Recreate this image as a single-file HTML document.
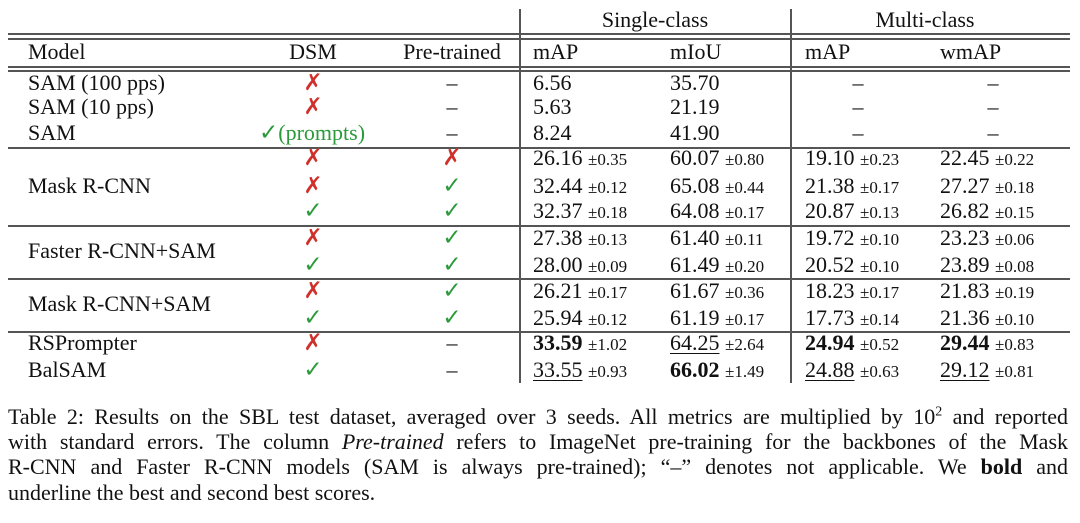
<!DOCTYPE html>
<html><head><meta charset="utf-8">
<style>
body{margin:0;background:#fff;width:1080px;height:523px;overflow:hidden;position:relative;font-family:"Liberation Serif",serif;color:#111}
.t{position:absolute;height:26px;line-height:26px;font-size:22px;white-space:nowrap}
.c{transform:translateX(-50%)}
.s{font-size:17px}
.r{color:#d0302a;font-family:"DejaVu Sans",sans-serif;font-size:23px}
.g{color:#2a9a3a;font-family:"DejaVu Sans",sans-serif;font-size:23px}
.hl{position:absolute;height:1.5px;background:#555;left:8px;width:1062px}
.vl{position:absolute;width:1.5px;background:#555;top:9px;height:374px}
u{text-decoration-thickness:1px;text-underline-offset:3px}
.cap{position:absolute;left:8px;width:1060px;height:25px;font-size:22px;line-height:25px;text-align:justify;text-align-last:justify;white-space:nowrap}
sup{line-height:0;font-size:14px}
</style></head><body>
<div class="hl" style="top:33px"></div>
<div class="hl" style="top:38px"></div>
<div class="hl" style="top:66px"></div>
<div class="hl" style="top:70px"></div>
<div class="hl" style="top:147px"></div>
<div class="hl" style="top:225px"></div>
<div class="hl" style="top:278px"></div>
<div class="hl" style="top:331px"></div>
<div class="vl" style="left:519px"></div>
<div class="vl" style="left:790px"></div>

<div class="t c" style="left:655px;top:7px">Single-class</div>
<div class="t c" style="left:925px;top:7px">Multi-class</div>

<div class="t" style="left:28px;top:39px">Model</div>
<div class="t c" style="left:313px;top:39px">DSM</div>
<div class="t c" style="left:452px;top:39px">Pre-trained</div>
<div class="t" style="left:533px;top:39px">mAP</div>
<div class="t" style="left:670px;top:39px">mIoU</div>
<div class="t" style="left:805px;top:39px">mAP</div>
<div class="t" style="left:940px;top:39px">wmAP</div>

<div class="t" style="left:28px;top:70px">SAM (100 pps)</div>
<div class="t" style="left:28px;top:94px">SAM (10 pps)</div>
<div class="t" style="left:28px;top:120px">SAM</div>
<div class="t c r" style="left:313px;top:70px">✗</div>
<div class="t c r" style="left:313px;top:94px">✗</div>
<div class="t" style="left:259px;top:120px"><span class="g">✓</span><span style="color:#2a9a3a">(prompts)</span></div>
<div class="t c" style="left:452px;top:70px">–</div>
<div class="t c" style="left:452px;top:94px">–</div>
<div class="t c" style="left:452px;top:120px">–</div>
<div class="t" style="left:533px;top:70px">6.56</div>
<div class="t" style="left:533px;top:94px">5.63</div>
<div class="t" style="left:533px;top:120px">8.24</div>
<div class="t" style="left:670px;top:70px">35.70</div>
<div class="t" style="left:670px;top:94px">21.19</div>
<div class="t" style="left:670px;top:120px">41.90</div>
<div class="t c" style="left:858px;top:70px">–</div>
<div class="t c" style="left:858px;top:94px">–</div>
<div class="t c" style="left:858px;top:120px">–</div>
<div class="t c" style="left:993px;top:70px">–</div>
<div class="t c" style="left:993px;top:94px">–</div>
<div class="t c" style="left:993px;top:120px">–</div>

<div class="t" style="left:28px;top:173px">Mask R-CNN</div>
<div class="t c r" style="left:313px;top:145px">✗</div>
<div class="t c r" style="left:313px;top:173px">✗</div>
<div class="t c g" style="left:313px;top:198px">✓</div>
<div class="t c r" style="left:452px;top:145px">✗</div>
<div class="t c g" style="left:452px;top:173px">✓</div>
<div class="t c g" style="left:452px;top:198px">✓</div>
<div class="t" style="left:533px;top:145px">26.16 <span class="s">±0.35</span></div>
<div class="t" style="left:533px;top:173px">32.44 <span class="s">±0.12</span></div>
<div class="t" style="left:533px;top:198px">32.37 <span class="s">±0.18</span></div>
<div class="t" style="left:670px;top:145px">60.07 <span class="s">±0.80</span></div>
<div class="t" style="left:670px;top:173px">65.08 <span class="s">±0.44</span></div>
<div class="t" style="left:670px;top:198px">64.08 <span class="s">±0.17</span></div>
<div class="t" style="left:805px;top:145px">19.10 <span class="s">±0.23</span></div>
<div class="t" style="left:805px;top:173px">21.38 <span class="s">±0.17</span></div>
<div class="t" style="left:805px;top:198px">20.87 <span class="s">±0.13</span></div>
<div class="t" style="left:940px;top:145px">22.45 <span class="s">±0.22</span></div>
<div class="t" style="left:940px;top:173px">27.27 <span class="s">±0.18</span></div>
<div class="t" style="left:940px;top:198px">26.82 <span class="s">±0.15</span></div>

<div class="t" style="left:28px;top:238px">Faster R-CNN+SAM</div>
<div class="t c r" style="left:313px;top:225px">✗</div>
<div class="t c g" style="left:313px;top:252px">✓</div>
<div class="t c g" style="left:452px;top:225px">✓</div>
<div class="t c g" style="left:452px;top:252px">✓</div>
<div class="t" style="left:533px;top:225px">27.38 <span class="s">±0.13</span></div>
<div class="t" style="left:533px;top:252px">28.00 <span class="s">±0.09</span></div>
<div class="t" style="left:670px;top:225px">61.40 <span class="s">±0.11</span></div>
<div class="t" style="left:670px;top:252px">61.49 <span class="s">±0.20</span></div>
<div class="t" style="left:805px;top:225px">19.72 <span class="s">±0.10</span></div>
<div class="t" style="left:805px;top:252px">20.52 <span class="s">±0.10</span></div>
<div class="t" style="left:940px;top:225px">23.23 <span class="s">±0.06</span></div>
<div class="t" style="left:940px;top:252px">23.89 <span class="s">±0.08</span></div>

<div class="t" style="left:28px;top:291px">Mask R-CNN+SAM</div>
<div class="t c r" style="left:313px;top:278px">✗</div>
<div class="t c g" style="left:313px;top:305px">✓</div>
<div class="t c g" style="left:452px;top:278px">✓</div>
<div class="t c g" style="left:452px;top:305px">✓</div>
<div class="t" style="left:533px;top:278px">26.21 <span class="s">±0.17</span></div>
<div class="t" style="left:533px;top:305px">25.94 <span class="s">±0.12</span></div>
<div class="t" style="left:670px;top:278px">61.67 <span class="s">±0.36</span></div>
<div class="t" style="left:670px;top:305px">61.19 <span class="s">±0.17</span></div>
<div class="t" style="left:805px;top:278px">18.23 <span class="s">±0.17</span></div>
<div class="t" style="left:805px;top:305px">17.73 <span class="s">±0.14</span></div>
<div class="t" style="left:940px;top:278px">21.83 <span class="s">±0.19</span></div>
<div class="t" style="left:940px;top:305px">21.36 <span class="s">±0.10</span></div>

<div class="t" style="left:28px;top:330px">RSPrompter</div>
<div class="t" style="left:28px;top:357px">BalSAM</div>
<div class="t c r" style="left:313px;top:330px">✗</div>
<div class="t c g" style="left:313px;top:357px">✓</div>
<div class="t c" style="left:452px;top:330px">–</div>
<div class="t c" style="left:452px;top:357px">–</div>
<div class="t" style="left:533px;top:330px"><b>33.59</b> <span class="s">±1.02</span></div>
<div class="t" style="left:533px;top:357px"><u>33.55</u> <span class="s">±0.93</span></div>
<div class="t" style="left:670px;top:330px"><u>64.25</u> <span class="s">±2.64</span></div>
<div class="t" style="left:670px;top:357px"><b>66.02</b> <span class="s">±1.49</span></div>
<div class="t" style="left:805px;top:330px"><b>24.94</b> <span class="s">±0.52</span></div>
<div class="t" style="left:805px;top:357px"><u>24.88</u> <span class="s">±0.63</span></div>
<div class="t" style="left:940px;top:330px"><b>29.44</b> <span class="s">±0.83</span></div>
<div class="t" style="left:940px;top:357px"><u>29.12</u> <span class="s">±0.81</span></div>

<div class="cap" style="top:404px">Table 2: Results on the SBL test dataset, averaged over 3 seeds. All metrics are multiplied by 10<sup>2</sup> and reported</div>
<div class="cap" style="top:429px">with standard errors. The column <i>Pre-trained</i> refers to ImageNet pre-training for the backbones of the Mask</div>
<div class="cap" style="top:454px">R-CNN and Faster R-CNN models (SAM is always pre-trained); “–” denotes not applicable. We <b>bold</b> and</div>
<div class="cap" style="top:480px;text-align:left;text-align-last:left">underline the best and second best scores.</div>
</body></html>
